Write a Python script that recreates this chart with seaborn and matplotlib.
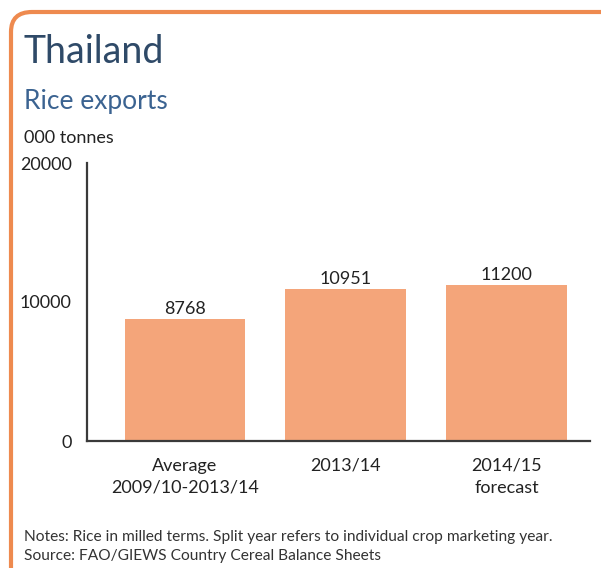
import matplotlib
matplotlib.use("Agg")
import matplotlib.pyplot as plt
import seaborn as sns
import pandas as pd
from matplotlib.patches import FancyBboxPatch

categories = ["Average\n2009/10-2013/14", "2013/14", "2014/15\nforecast"]
values = [8768, 10951, 11200]
yticks = [0, 10000, 20000]

sns.set_theme(style="white")
plt.rcParams['font.family'] = ['Lato', 'DejaVu Sans']

W, H = 601, 568
fig = plt.figure(figsize=(W / 100, H / 100), dpi=100)

# orange frame (top + left, rounded corner)
frame = FancyBboxPatch((11 / W, -0.2), 1.2, (H - 12) / H + 0.2,
                       boxstyle="round,pad=0,rounding_size=0.035",
                       transform=fig.transFigure, fill=False,
                       edgecolor="#EE8A4F", linewidth=3, clip_on=False)
fig.patches.append(frame)

ax = fig.add_axes([87 / W, 1 - 441 / H, (590 - 87) / W, (441 - 163) / H])
df = pd.DataFrame({"cat": categories, "val": values})
sns.barplot(data=df, x="cat", y="val", ax=ax, color="#F4A57A", saturation=1,
            width=0.75, edgecolor="none")
ax.set_xlim(-0.61, 2.52)
ax.set_ylim(0, 20000)
ax.set_yticks(yticks)
ax.set_yticklabels([str(t) for t in yticks])
ax.set_xlabel("")
ax.set_ylabel("")
for s in ["top", "right"]:
    ax.spines[s].set_visible(False)
for s in ["left", "bottom"]:
    ax.spines[s].set_color("#3a3a3a")
    ax.spines[s].set_linewidth(1.6)
ax.tick_params(axis="both", length=0, labelsize=13, colors="#222222")
ax.tick_params(axis="y", pad=11)
ax.tick_params(axis="x", pad=12)
for lab in ax.get_xticklabels():
    lab.set_linespacing(1.45)
for i, v in enumerate(values):
    ax.text(i, v + 150, str(v), ha="center", va="bottom", fontsize=13, color="#222222")

fig.text(24 / W, 1 - 52 / H, "Thailand", fontsize=27, color="#2F4A68", va="center", ha="left")
fig.text(24 / W, 1 - 101 / H, "Rice exports", fontsize=19, color="#3B6391", va="center", ha="left")
fig.text(24 / W, 1 - 138 / H, "000 tonnes", fontsize=13, color="#222222", va="center", ha="left")
fig.text(24 / W, 1 - 537 / H,
         "Notes: Rice in milled terms. Split year refers to individual crop marketing year.",
         fontsize=11.2, color="#333333", va="center", ha="left")
fig.text(24 / W, 1 - 556 / H, "Source: FAO/GIEWS Country Cereal Balance Sheets",
         fontsize=11.2, color="#333333", va="center", ha="left")

fig.savefig("out.png", dpi=100, facecolor="white")
